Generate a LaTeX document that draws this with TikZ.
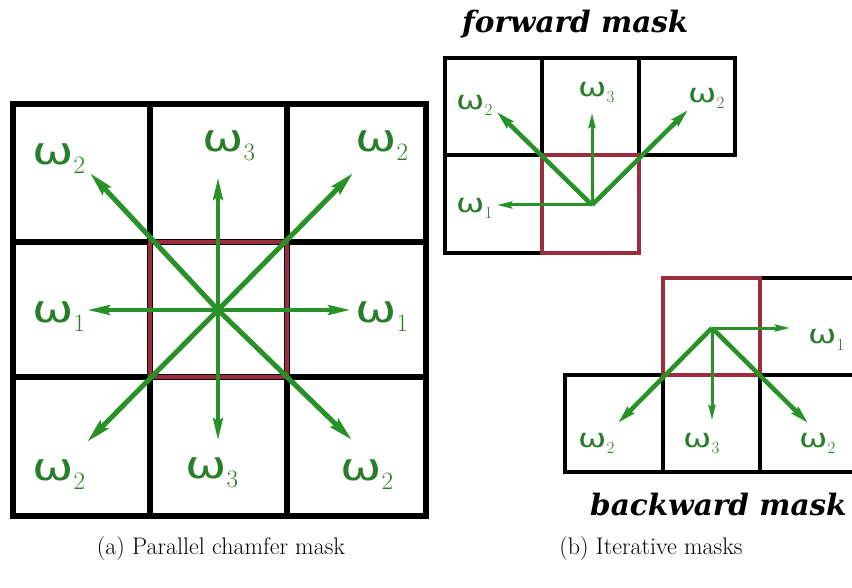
\documentclass[tikz,border=0pt]{standalone}
\usepackage{fontspec}
\usetikzlibrary{arrows.meta}
\newfontfamily\wfont{DejaVu Sans}
\newfontfamily\ttlfont{DejaVu Serif}
\definecolor{gridred}{RGB}{155,45,60}
\definecolor{arrgreen}{RGB}{40,145,40}
\definecolor{txtgreen}{RGB}{40,125,40}
% big and small omega labels
\newcommand\wbig[1]{\scalebox{1.3}[1]{\fontsize{38}{38}\selectfont\wfont ω}\raisebox{-9pt}{\fontsize{25}{25}\selectfont #1}}
\newcommand\wsmall[1]{\scalebox{1.3}[1]{\fontsize{26}{26}\selectfont\wfont ω}\raisebox{-6pt}{\fontsize{17}{17}\selectfont #1}}
\tikzset{
  gridline/.style={line width=5.5pt,black},
  gridthin/.style={line width=4pt,black},
  redcell/.style={line width=4.5pt,gridred},
  redthin/.style={line width=3.5pt,gridred},
  diagarr/.style={line width=5pt,arrgreen,-{Stealth[length=24pt,width=11pt,inset=3pt]}},
  orthoarr/.style={line width=3.5pt,arrgreen,-{Stealth[length=22pt,width=10pt,inset=3pt]}},
  diagsm/.style={line width=4.5pt,arrgreen,-{Stealth[length=18pt,width=9pt,inset=2pt]}},
  orthosm/.style={line width=3pt,arrgreen,-{Stealth[length=15pt,width=7pt,inset=2pt]}},
  wlabel/.style={inner sep=0pt,anchor=base west,text=txtgreen},
  ttl/.style={inner sep=0pt,anchor=base west,font=\ttlfont\bfseries\itshape\fontsize{29.5}{29.5}\selectfont},
  capt/.style={inner sep=0pt,font=\fontsize{24}{24}\selectfont}
}
\begin{document}
\begin{tikzpicture}[x=1pt,y=-1pt]
\useasboundingbox (0,0) rectangle (852,588);
\fill[white] (0,0) rectangle (852,588);

% ---------- (a) parallel mask ----------
\draw[gridline] (13,104) rectangle (426,516);
\draw[gridline] (150,104) -- (150,516) (287,104) -- (287,516)
                (13,242) -- (426,242) (13,377) -- (426,377);
\draw[redcell] (150,242) rectangle (287,377);

\coordinate (C) at (218,310);
\coordinate (aUL) at (90,173);
\coordinate (aU) at (218,178);
\coordinate (aUR) at (353,173);
\coordinate (aL) at (88,310);
\coordinate (aR) at (350,310);
\coordinate (aDL) at (87,442);
\coordinate (aD) at (218,440);
\coordinate (aDR) at (352,440);
\draw[diagarr] (C) -- (aUL);
\draw[diagarr] (C) -- (aUR);
\draw[diagarr] (C) -- (aDL);
\draw[diagarr] (C) -- (aDR);
\draw[orthoarr] (C) -- (aU);
\draw[orthoarr] (C) -- (aD);
\draw[orthoarr] (C) -- (aL);
\draw[orthoarr] (C) -- (aR);

\node[wlabel] (la1) at (32,165) {\wbig{2}};
\node[wlabel] (la2) at (202,152) {\wbig{3}};
\node[wlabel] (la3) at (355,152) {\wbig{2}};
\node[wlabel] (la4) at (32,323) {\wbig{1}};
\node[wlabel] (la5) at (355,323) {\wbig{1}};
\node[wlabel] (la6) at (32,480) {\wbig{2}};
\node[wlabel] (la7) at (185,478) {\wbig{3}};
\node[wlabel] (la8) at (340,480) {\wbig{2}};

% ---------- forward mask ----------
\node[ttl] (fwd) at (462,33) {forward mask};
\draw[gridthin] (445,58) rectangle (735,155);
\draw[gridthin] (542,58) -- (542,155) (639,58) -- (639,155);
\draw[gridthin] (445,155) -- (445,253) -- (542,253);
\draw[redthin] (542,155) rectangle (639,253);

\coordinate (F) at (592,205);
\coordinate (fUL) at (497,112);
\coordinate (fU) at (592,113);
\coordinate (fUR) at (688,110);
\coordinate (fL) at (497,205);
\draw[diagsm] (F) -- (fUL);
\draw[diagsm] (F) -- (fUR);
\draw[orthosm] (F) -- (fU);
\draw[orthosm] (F) -- (fL);

\node[wlabel] (lf1) at (456,110) {\wsmall{2}};
\node[wlabel] (lf2) at (578,97) {\wsmall{3}};
\node[wlabel] (lf3) at (688,103) {\wsmall{2}};
\node[wlabel] (lf4) at (456,213) {\wsmall{1}};

% ---------- backward mask ----------
\draw[gridthin] (760,278) -- (852,278);
\draw[gridthin] (852,375) -- (565,375) -- (565,472) -- (852,472);
\draw[gridthin] (663,375) -- (663,472) (760,375) -- (760,472);
\draw[redthin] (663,278) rectangle (760,375);

\coordinate (B) at (712,328);
\coordinate (bR) at (790,328);
\coordinate (bDL) at (618,423);
\coordinate (bD) at (712,420);
\coordinate (bDR) at (808,423);
\draw[diagsm] (B) -- (bDL);
\draw[diagsm] (B) -- (bDR);
\draw[orthosm] (B) -- (bD);
\draw[orthosm] (B) -- (bR);

\node[wlabel] (lb1) at (808,344) {\wsmall{1}};
\node[wlabel] (lb2) at (578,447) {\wsmall{2}};
\node[wlabel] (lb3) at (683,447) {\wsmall{3}};
\node[wlabel] (lb4) at (799,447) {\wsmall{2}};

\node[ttl] (bwd) at (590,515) {backward mask};

% ---------- captions ----------
\node[capt] (capa) at (221,549) {(a) Parallel chamfer mask};
\node[capt] (capb) at (651,549) {(b) Iterative masks};
\end{tikzpicture}
\end{document}
